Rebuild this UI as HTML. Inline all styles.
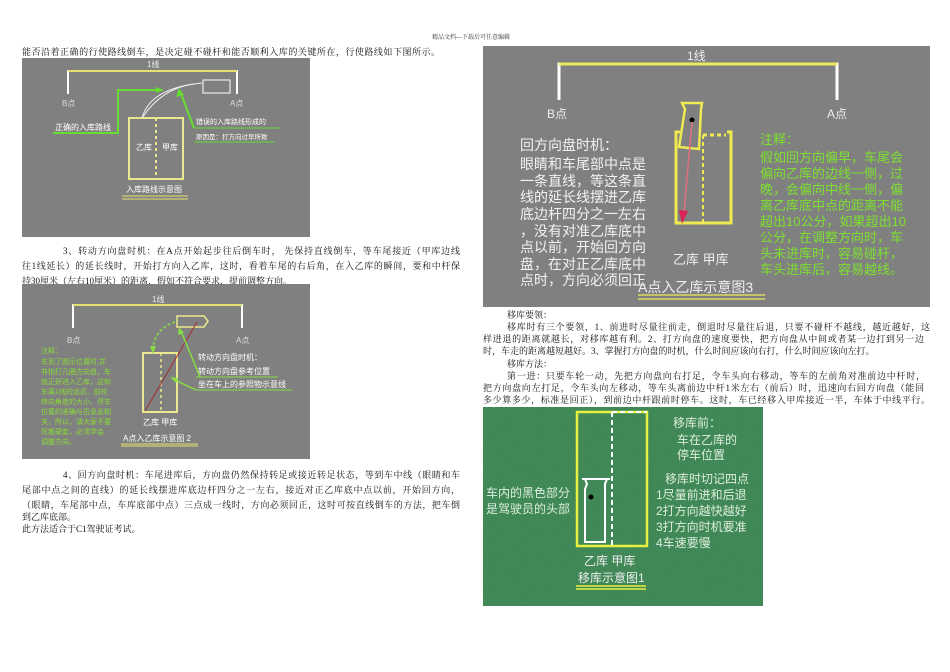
<!DOCTYPE html>
<html><head><meta charset="utf-8">
<style>
*{margin:0;padding:0}
body{width:950px;height:672px;background:#fff;position:relative;overflow:hidden;font-family:"Liberation Serif","Noto Serif CJK SC",serif;color:#111}
.t{position:absolute;font-size:9px;line-height:12px;white-space:nowrap}
.j{position:absolute;font-size:9px;line-height:12px;text-align:justify;text-align-last:justify;white-space:nowrap}
.img{position:absolute}
svg text{font-family:"Liberation Sans","Noto Sans CJK SC",sans-serif}
</style></head><body>
<div class="t" style="left:432px;top:32px;font-size:6px;color:#333">精品文档---下载后可任意编辑</div>
<div class="j" style="left:22px;top:46px;width:418px">能否沿着正确的行使路线倒车，是决定碰不碰杆和能否顺利入库的关键所在，行使路线如下图所示。</div>

<svg class="img" style="left:22px;top:58px" width="288" height="179">
<rect width="288" height="179" fill="#808080"/>
<text x="125" y="9" font-size="8" fill="#eee">1线</text>
<polyline points="46,36 46,13 215,13 215,36" fill="none" stroke="#fff" stroke-width="2"/>
<line x1="46" y1="13" x2="215" y2="13" stroke="#e6e070" stroke-width="2"/>
<text x="40" y="48" font-size="8" fill="#ddd">B点</text>
<text x="208" y="48" font-size="8" fill="#ddd">A点</text>
<rect x="107" y="60" width="54" height="61" fill="none" stroke="#ece890" stroke-width="2"/>
<line x1="134" y1="60" x2="134" y2="121" stroke="#ece890" stroke-width="2" stroke-dasharray="3,3"/>
<text x="114" y="92" font-size="8" fill="#fff">乙库</text>
<text x="140" y="92" font-size="8" fill="#fff">甲库</text>
<rect x="181" y="22" width="27" height="13" fill="none" stroke="#fff" stroke-width="1"/>
<path d="M120,60 Q128,30 180,25" fill="none" stroke="#eee" stroke-width="1"/>
<path d="M120,60 Q140,30 172,26" fill="none" stroke="#eee" stroke-width="1"/>
<polyline points="31,75 96,75 96,32 138,32" fill="none" stroke="#66dd33" stroke-width="2"/>
<polygon points="142,32 134,29 134,35" fill="#66dd33"/>
<polyline points="172,70 158,33" fill="none" stroke="#66dd33" stroke-width="2"/>
<polygon points="157,30 154,39 162,37" fill="#66dd33"/>
<text x="33" y="72" font-size="8" fill="#fff">正确的入库路线</text>
<text x="174" y="66" font-size="7" fill="#fff">错误的入库路线形成的</text>
<line x1="172" y1="70" x2="258" y2="70" stroke="#66dd33" stroke-width="1"/>
<text x="174" y="81" font-size="6.5" fill="#fff">原因是：打方向过早所致</text>
<line x1="172" y1="84" x2="253" y2="84" stroke="#66dd33" stroke-width="1"/>
<text x="104" y="134" font-size="8" fill="#fff">入库路线示意图</text>
<line x1="100" y1="138" x2="166" y2="138" stroke="#e6e070"/>
<line x1="100" y1="141" x2="166" y2="141" stroke="#e6e070"/>
</svg>

<div class="j" style="left:63px;top:245px;width:397px">3、转动方向盘时机：在A点开始起步往后倒车时， 先保持直线倒车，等车尾接近（甲库边线</div>
<div class="j" style="left:22px;top:260px;width:438px">往1线延长）的延长线时，开始打方向入乙库，这时，看着车尾的右后角，在入乙库的瞬间，要和中杆保</div>
<div class="t" style="left:22px;top:275px">持30厘米（左右10厘米）的距离，假如不符合要求，提前调整方向。</div>

<svg class="img" style="left:22px;top:284px" width="288" height="175">
<rect width="288" height="175" fill="#808080"/>
<text x="130" y="18" font-size="8" fill="#eee">1线</text>
<polyline points="51,44 51,21 220,21 220,44" fill="none" stroke="#fff" stroke-width="2"/>
<line x1="51" y1="21" x2="220" y2="21" stroke="#e6e070" stroke-width="2"/>
<text x="45" y="59" font-size="8" fill="#ddd">B点</text>
<text x="214" y="59" font-size="8" fill="#ddd">A点</text>
<rect x="121" y="69" width="34" height="59" fill="none" stroke="#ece890" stroke-width="2"/>
<line x1="139" y1="69" x2="139" y2="128" stroke="#ece890" stroke-width="1.5" stroke-dasharray="3,3"/>
<line x1="121" y1="69" x2="155" y2="69" stroke="#ece890" stroke-width="2" stroke-dasharray="3,2"/>
<path d="M155,32 L182,32 L186,37 L182,43 L155,43 Z" fill="none" stroke="#ece890" stroke-width="1.5"/>
<line x1="175" y1="38" x2="123" y2="127" stroke="#a03030" stroke-width="1"/>
<path d="M153,38 Q132,45 131,66" fill="none" stroke="#88dd44" stroke-width="1.5" stroke-dasharray="3,2"/>
<polygon points="131,70 128,62 134,62" fill="#88dd44"/>
<text font-size="7" fill="#88dd33"><tspan x="19" y="69">注释：</tspan><tspan x="19" y="80">车到了图示位置时,并</tspan><tspan x="19" y="90">非指打几圈方向盘，车</tspan><tspan x="19" y="100">就正好进入乙库，这和</tspan><tspan x="19" y="110">车离1线的远近、前轮</tspan><tspan x="19" y="120">转向角度的大小、停车</tspan><tspan x="19" y="130">位置的准确与否息息相</tspan><tspan x="19" y="140">关，所以，请大家不要</tspan><tspan x="19" y="150">死搬硬套，必须学会</tspan><tspan x="19" y="160">调整方向。</tspan></text>
<text x="176" y="76" font-size="8" fill="#fff">转动方向盘时机：</text>
<text x="176" y="90" font-size="8" fill="#fff">转动方向盘参考位置</text>
<line x1="174" y1="93" x2="256" y2="93" stroke="#88dd44"/>
<text x="176" y="103" font-size="8" fill="#fff">坐在车上的参照物示意线</text>
<line x1="174" y1="106" x2="270" y2="106" stroke="#88dd44"/>
<polyline points="178,93 159,47" fill="none" stroke="#88dd44" stroke-width="1.5"/>
<polygon points="157,43 156,51 162,49" fill="#88dd44"/>
<polyline points="174,106 151,95" fill="none" stroke="#88dd44" stroke-width="1.5"/>
<polygon points="148,93 154,99 156,94" fill="#88dd44"/>
<text x="121" y="141" font-size="8" fill="#fff">乙库 甲库</text>
<text x="101" y="157" font-size="8" fill="#fff">A点入乙库示意图 2</text>
<line x1="99" y1="160" x2="176" y2="160" stroke="#e6e070"/>
<line x1="99" y1="162" x2="176" y2="162" stroke="#e6e070"/>
</svg>

<div class="j" style="left:63px;top:469px;width:397px">4、回方向盘时机：车尾进库后，方向盘仍然保持转足或接近转足状态，等到车中线（眼睛和车</div>
<div class="j" style="left:22px;top:484px;width:438px">尾部中点之间的直线）的延长线摆进库底边杆四分之一左右，接近对正乙库底中点以前，开始回方向，</div>
<div class="j" style="left:22px;top:499px;width:438px">（眼睛，车尾部中点，车库底部中点）三点成一线时，方向必须回正，这时可按直线倒车的方法，把车倒</div>
<div class="t" style="left:22px;top:511px">到乙库底部。</div>
<div class="t" style="left:22px;top:523px">此方法适合于C1驾驶证考试。</div>

<svg class="img" style="left:483px;top:46px" width="447" height="261">
<rect width="447" height="261" fill="#808080"/>
<text x="204" y="14" font-size="12" fill="#eee">1线</text>
<polyline points="76,54 76,18 354,18 354,54" fill="none" stroke="#fff" stroke-width="3"/>
<line x1="76" y1="18" x2="354" y2="18" stroke="#ece860" stroke-width="3"/>
<text x="64" y="72" font-size="12" fill="#eee">B点</text>
<text x="344" y="72" font-size="12" fill="#eee">A点</text>
<polyline points="197,86 193,86 193,177 248,177 248,86 244,86" fill="none" stroke="#eeea50" stroke-width="3"/>
<line x1="220" y1="89" x2="220" y2="177" stroke="#eeea50" stroke-width="2" stroke-dasharray="4,3"/>
<line x1="220" y1="89" x2="243" y2="89" stroke="#eeea50" stroke-width="3" stroke-dasharray="4,3"/>
<path d="M199,57 L219,57 L218,63 L216,103 L196,101 L202,63 Z" fill="#808080" stroke="#eeea50" stroke-width="2.5"/>
<circle cx="209" cy="74" r="2.5" fill="#000"/>
<line x1="209" y1="76" x2="201" y2="166" stroke="#e07080" stroke-width="1.5"/>
<polygon points="199,178 196,164 205,165" fill="#dd2255"/>
<text font-size="14" fill="#f2f2f2"><tspan x="37" y="104">回方向盘时机：</tspan><tspan x="37" y="123">眼睛和车尾部中点是</tspan><tspan x="37" y="140">一条直线，等这条直</tspan><tspan x="37" y="156">线的延长线摆进乙库</tspan><tspan x="37" y="173">底边杆四分之一左右</tspan><tspan x="37" y="190">，没有对准乙库底中</tspan><tspan x="37" y="206">点以前，开始回方向</tspan><tspan x="37" y="223">盘，在对正乙库底中</tspan><tspan x="37" y="239">点时，方向必须回正</tspan></text>
<text x="190" y="218" font-size="13" fill="#eee">乙库 甲库</text>
<text font-size="13" fill="#7de030"><tspan x="277" y="98">注释：</tspan><tspan x="277" y="116">假如回方向偏早，车尾会</tspan><tspan x="277" y="132">偏向乙库的边线一侧，过</tspan><tspan x="277" y="148">晚，会偏向中线一侧，偏</tspan><tspan x="277" y="164">离乙库底中点的距离不能</tspan><tspan x="277" y="180">超出10公分，如果超出10</tspan><tspan x="277" y="196">公分，在调整方向时，车</tspan><tspan x="277" y="212">头未进库时，容易碰杆，</tspan><tspan x="277" y="228">车头进库后，容易越线。</tspan></text>
<text x="155" y="246" font-size="14" fill="#eee">A点入乙库示意图3</text>
<line x1="155" y1="249" x2="282" y2="249" stroke="#dcd860" stroke-width="1.5"/>
<line x1="155" y1="253" x2="282" y2="253" stroke="#dcd860" stroke-width="1.5"/>
</svg>

<div class="t" style="left:507px;top:309px">移库要领：</div>
<div class="j" style="left:507px;top:321px;width:423px">移库时有三个要领，1、前进时尽量往前走，倒退时尽量往后退，只要不碰杆不越线，越近越好，这</div>
<div class="j" style="left:483px;top:333px;width:441px">样进退的距离就越长，对移库越有利。2、打方向盘的速度要快，把方向盘从中间或者某一边打到另一边</div>
<div class="t" style="left:483px;top:345px">时，车走的距离越短越好。3、掌握打方向盘的时机，什么时间应该向右打，什么时间应该向左打。</div>
<div class="t" style="left:507px;top:358px">移库方法：</div>
<div class="j" style="left:507px;top:370px;width:418px">第一进：只要车轮一动，先把方向盘向右打足，令车头向右移动，等车的左前角对准前边中杆时，</div>
<div class="j" style="left:483px;top:382px;width:441px">把方向盘向左打足，令车头向左移动，等车头离前边中杆1米左右（前后）时，迅速向右回方向盘（能回</div>
<div class="j" style="left:483px;top:394px;width:447px">多少算多少，标准是回正），到前边中杆跟前时停车。这时，车已经移入甲库接近一半，车体于中线平行。</div>

<svg class="img" style="left:483px;top:407px" width="280" height="199">
<defs><filter id="n"><feTurbulence type="fractalNoise" baseFrequency="0.9" numOctaves="2"/><feColorMatrix values="0 0 0 0 0.15  0 0 0 0 0.45  0 0 0 0 0.25  0 0 0 0.6 0"/></filter></defs>
<rect width="280" height="199" fill="#377f4c"/>
<rect width="280" height="199" filter="url(#n)" opacity="0.6"/>
<polyline points="129,5 94,5 94,139 164,139 164,5 129,5" fill="none" stroke="#e8f040" stroke-width="2.5"/>
<line x1="129" y1="5" x2="164" y2="5" stroke="#fff" stroke-width="2" stroke-dasharray="5,3"/>
<line x1="129" y1="5" x2="129" y2="139" stroke="#fff" stroke-width="2" stroke-dasharray="5,3"/>
<path d="M102,72 L124,72 L122,77 L122,135 L102,135 L102,82 L104,77 Z" fill="none" stroke="#fff" stroke-width="2"/>
<line x1="99" y1="72" x2="127" y2="72" stroke="#fff" stroke-width="2"/>
<circle cx="108" cy="90" r="2.5" fill="#000"/>
<text font-size="12" fill="#ddeedd"><tspan x="190" y="20">移库前：</tspan><tspan x="194" y="37">车在乙库的</tspan><tspan x="194" y="52">停车位置</tspan><tspan x="182" y="76">移库时切记四点</tspan><tspan x="173" y="92">1尽量前进和后退</tspan><tspan x="173" y="108">2打方向越快越好</tspan><tspan x="173" y="124">3打方向时机要准</tspan><tspan x="173" y="140">4车速要慢</tspan></text>
<text font-size="12" fill="#ddeedd"><tspan x="3" y="90">车内的黑色部分</tspan><tspan x="3" y="106">是驾驶员的头部</tspan></text>
<text x="101" y="158" font-size="12" fill="#eee">乙库  甲库</text>
<text x="95" y="175" font-size="12" fill="#eee">移库示意图1</text>
<line x1="93" y1="179" x2="163" y2="179" stroke="#e8f040" stroke-width="1.5"/>
<line x1="93" y1="182" x2="163" y2="182" stroke="#e8f040" stroke-width="1.5"/>
</svg>
</body></html>
